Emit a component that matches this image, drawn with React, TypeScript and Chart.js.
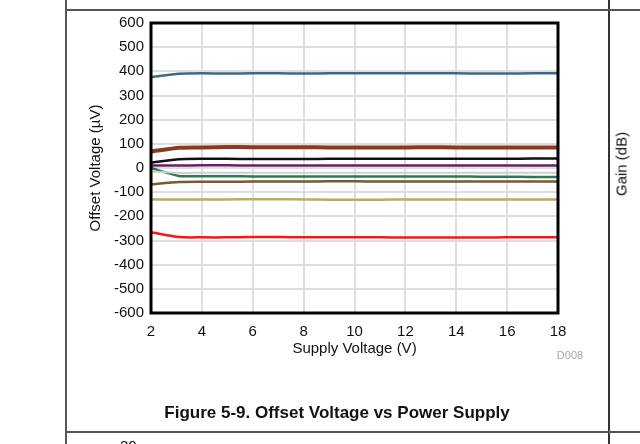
import React, { useEffect, useRef } from "react";
import { Chart, registerables } from "chart.js";

Chart.register(...registerables);

const supplyVoltage = [2, 3.1, 4, 5, 6, 7, 8, 9, 10, 11, 12, 13, 14, 15, 16, 17, 18];
const xTicks = [2, 4, 6, 8, 10, 12, 14, 16, 18];
const yTicks = [600, 500, 400, 300, 200, 100, 0, -100, -200, -300, -400, -500, -600];

const unitBlue = [376, 390, 392, 391, 392, 392, 391, 392, 392, 392, 392, 392, 392, 391, 391, 392, 392];
const unitBrownRed = [68, 84, 85, 87, 86, 86, 86, 85, 85, 85, 85, 86, 85, 85, 85, 85, 85];
const unitBlack = [22, 36, 38, 38, 37, 37, 37, 38, 38, 38, 38, 38, 38, 38, 38, 39, 39];
const unitPurple = [10, 10, 11, 11, 10, 10, 10, 10, 10, 10, 10, 10, 10, 10, 10, 10, 10];
const unitGray = [-14, -20, -20, -20, -20, -20, -20, -20, -20, -20, -20, -20, -20, -20, -20, -20, -20];
const unitGreen = [0, -33, -34, -34, -35, -35, -35, -35, -35, -35, -35, -35, -35, -36, -36, -37, -37];
const unitBrown = [-68, -58, -57, -57, -56, -56, -56, -55, -55, -56, -56, -56, -56, -56, -56, -56, -56];
const unitOlive = [-130, -130, -130, -130, -129, -129, -130, -131, -131, -131, -130, -130, -130, -130, -130, -130, -130];
const unitRed = [-266, -286, -287, -287, -286, -286, -287, -287, -287, -287, -288, -288, -288, -288, -287, -287, -287];

const seriesList = [
  { name: "Unit 1", values: unitGray, color: "#cfcfcf", width: 2 },
  { name: "Unit 2", values: unitBlue, color: "#3b6a88", width: 2.5 },
  { name: "Unit 3", values: unitBrownRed, color: "#883b22", width: 4 },
  { name: "Unit 4", values: unitBlack, color: "#111111", width: 2.5 },
  { name: "Unit 5", values: unitPurple, color: "#6b1d6b", width: 2.5 },
  { name: "Unit 6", values: unitGreen, color: "#2c7a50", width: 2.5 },
  { name: "Unit 7", values: unitBrown, color: "#7a5830", width: 2.5 },
  { name: "Unit 8", values: unitOlive, color: "#b5af62", width: 2.5 },
  { name: "Unit 9", values: unitRed, color: "#ff1414", width: 2.5 },
];

const FONT = "'Liberation Sans', Arial, Helvetica, sans-serif";

const framePlugin = {
  id: "frame",
  afterDatasetsDraw(chart: any) {
    const { ctx, chartArea } = chart;
    ctx.save();
    ctx.strokeStyle = "#000";
    ctx.lineWidth = 3;
    ctx.strokeRect(chartArea.left, chartArea.top, chartArea.right - chartArea.left, chartArea.bottom - chartArea.top);
    ctx.restore();
  },
};

export default function App() {
  const canvasRef = useRef<HTMLCanvasElement | null>(null);

  useEffect(() => {
    const canvas = canvasRef.current;
    if (!canvas) return;
    const chart = new Chart(canvas, {
      type: "line",
      data: {
        datasets: seriesList.map((s) => ({
          label: s.name,
          data: supplyVoltage.map((x, i) => ({ x, y: s.values[i] })),
          borderColor: s.color,
          backgroundColor: s.color,
          borderWidth: s.width,
          pointRadius: 0,
          tension: 0.2,
          fill: false,
        })),
      },
      options: {
        responsive: false,
        animation: false,
        events: [],
        layout: { padding: { left: 0, top: 23, right: 82, bottom: 0 } },
        plugins: { legend: { display: false }, tooltip: { enabled: false } },
        scales: {
          x: {
            type: "linear",
            min: 2,
            max: 18,
            afterFit: (s: any) => {
              s.height = 131;
            },
            afterBuildTicks: (s: any) => {
              s.ticks = xTicks.map((v) => ({ value: v }));
            },
            border: { display: false },
            grid: { color: "#dedede", lineWidth: 2, drawTicks: false },
            ticks: {
              padding: 10,
              color: "#111",
              font: { family: FONT, size: 15 },
              maxRotation: 0,
            },
            title: {
              display: true,
              text: "Supply Voltage (V)",
              color: "#111",
              font: { family: FONT, size: 15 },
              padding: { top: 4, bottom: 86 },
            },
          },
          y: {
            type: "linear",
            min: -600,
            max: 600,
            afterFit: (s: any) => {
              s.width = 151;
            },
            afterBuildTicks: (s: any) => {
              s.ticks = yTicks.map((v) => ({ value: v }));
            },
            border: { display: false },
            grid: { color: "#dedede", lineWidth: 2, drawTicks: false },
            ticks: {
              padding: 7,
              color: "#111",
              font: { family: FONT, size: 15 },
            },
            title: {
              display: true,
              text: "Offset Voltage (µV)",
              color: "#111",
              font: { family: FONT, size: 15 },
              padding: { top: 87, bottom: 4 },
            },
          },
        },
      },
      plugins: [framePlugin],
    });
    return () => chart.destroy();
  }, []);

  const lineColor = "#555";
  return (
    <div
      style={{
        position: "fixed",
        left: 0,
        top: 0,
        width: 640,
        height: 444,
        overflow: "hidden",
        background: "#fff",
        fontFamily: FONT,
      }}
    >
      <div style={{ position: "absolute", left: 65, top: 0, width: 2, height: 444, background: lineColor }} />
      <div style={{ position: "absolute", left: 608, top: 0, width: 1.5, height: 444, background: "#333" }} />
      <div style={{ position: "absolute", left: 65, top: 9, width: 575, height: 1.5, background: lineColor }} />
      <div style={{ position: "absolute", left: 65, top: 431, width: 575, height: 2, background: lineColor }} />
      <canvas ref={canvasRef} width={640} height={444} style={{ position: "absolute", left: 0, top: 0, width: 640, height: 444 }} />
      <div
        style={{
          position: "absolute",
          left: 540,
          top: 349,
          width: 60,
          textAlign: "center",
          fontSize: 11,
          color: "#a8a8a8",
        }}
      >
        D008
      </div>
      <div
        style={{
          position: "absolute",
          left: 0,
          width: 674,
          top: 403,
          textAlign: "center",
          fontSize: 17,
          fontWeight: "bold",
          color: "#111",
          whiteSpace: "nowrap",
        }}
      >
        Figure 5-9. Offset Voltage vs Power Supply
      </div>
      <div
        style={{
          position: "absolute",
          left: 621,
          top: 164,
          transform: "translate(-50%, -50%) rotate(-90deg)",
          fontSize: 15,
          color: "#111",
          whiteSpace: "nowrap",
        }}
      >
        Gain (dB)
      </div>
      <div style={{ position: "absolute", left: 120, top: 437, fontSize: 15, color: "#111" }}>20</div>
    </div>
  );
}
